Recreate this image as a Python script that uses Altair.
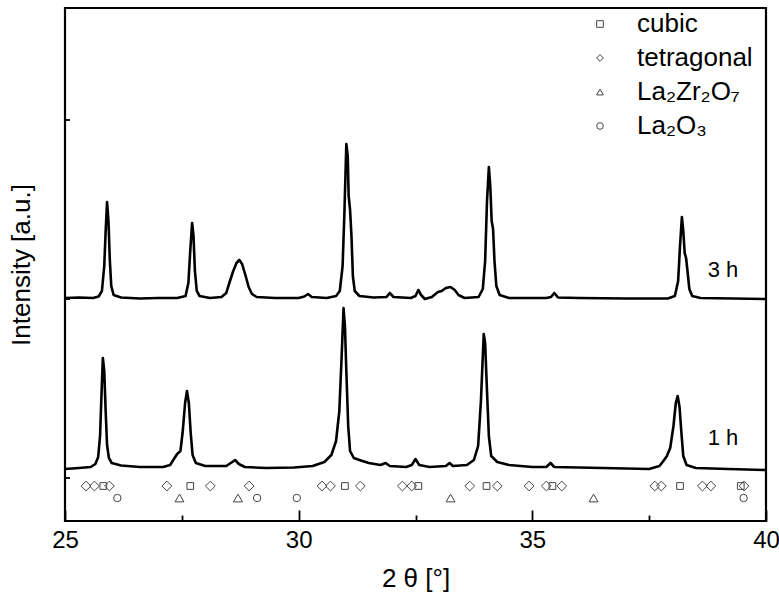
import altair as alt
import pandas as pd

# ---- XRD patterns: (2theta [deg], intensity [a.u.]) ----
pattern_3h = [
    (25.0, 223), (25.3, 223.5), (25.6, 223), (25.72, 224.5), (25.79, 230), (25.84, 255),
    (25.87, 290), (25.9, 319), (25.93, 300), (25.96, 260), (25.99, 235), (26.04, 226),
    (26.2, 223.5), (26.6, 222.5), (27.0, 223), (27.4, 223), (27.58, 225), (27.64, 238),
    (27.68, 270), (27.72, 298), (27.75, 285), (27.78, 250), (27.82, 230), (27.88, 225),
    (28.1, 223), (28.35, 224), (28.45, 228), (28.53, 240), (28.6, 250), (28.67, 258),
    (28.73, 261), (28.79, 257), (28.86, 246), (28.93, 234), (29.0, 227), (29.1, 224),
    (29.5, 223), (30.0, 223), (30.12, 224.5), (30.2, 227), (30.28, 224), (30.6, 223),
    (30.8, 225), (30.88, 230), (30.94, 255), (30.98, 310), (31.02, 377), (31.05, 365),
    (31.07, 325), (31.1, 311), (31.13, 285), (31.16, 245), (31.2, 230), (31.3, 225),
    (31.6, 223.5), (31.88, 224), (31.95, 228), (32.03, 224), (32.4, 223), (32.5, 225),
    (32.56, 231), (32.62, 226), (32.7, 222), (32.85, 224), (32.98, 229), (33.06, 230),
    (33.15, 233), (33.25, 234), (33.34, 231), (33.42, 226), (33.55, 223), (33.85, 224),
    (33.94, 232), (33.99, 260), (34.03, 320), (34.07, 354), (34.1, 335), (34.13, 300),
    (34.16, 292), (34.19, 260), (34.23, 235), (34.3, 226), (34.5, 223), (35.3, 223),
    (35.4, 224), (35.47, 228), (35.55, 223.5), (36.0, 223), (37.0, 222.5), (37.9, 222.5),
    (38.05, 225), (38.12, 240), (38.16, 275), (38.2, 304), (38.23, 290), (38.26, 268),
    (38.29, 263), (38.32, 250), (38.36, 232), (38.42, 225), (38.6, 223), (39.3, 222.5),
    (40.0, 222),
]

pattern_1h = [
    (25.0, 52), (25.3, 53), (25.55, 54), (25.65, 57), (25.71, 64), (25.75, 85),
    (25.78, 125), (25.81, 163), (25.84, 150), (25.87, 110), (25.9, 76), (25.94, 63),
    (26.0, 58), (26.2, 55.5), (26.6, 54), (27.1, 54), (27.25, 56), (27.33, 62),
    (27.4, 67), (27.47, 70), (27.52, 90), (27.57, 118), (27.61, 130), (27.65, 118),
    (27.69, 88), (27.73, 66), (27.8, 58), (28.0, 55), (28.45, 55), (28.58, 59),
    (28.64, 61), (28.72, 57), (28.85, 54), (29.3, 53), (29.9, 53.5), (30.3, 55),
    (30.55, 59), (30.7, 66), (30.8, 80), (30.87, 110), (30.92, 165), (30.96, 213),
    (30.99, 195), (31.02, 150), (31.06, 95), (31.1, 70), (31.18, 63), (31.3, 61),
    (31.5, 58), (31.75, 56), (31.86, 58), (31.95, 55), (32.3, 54), (32.42, 56),
    (32.5, 62), (32.58, 56), (32.8, 54), (33.15, 55), (33.23, 58), (33.3, 55),
    (33.6, 56), (33.75, 61), (33.84, 75), (33.9, 120), (33.96, 187), (33.99, 178),
    (34.03, 130), (34.07, 85), (34.12, 65), (34.25, 59), (34.5, 56), (35.0, 54),
    (35.3, 54), (35.39, 58), (35.47, 54), (36.5, 53), (37.5, 52), (37.72, 55),
    (37.82, 61), (37.88, 65), (37.95, 73), (38.02, 95), (38.07, 118), (38.11, 125),
    (38.15, 114), (38.19, 88), (38.23, 65), (38.3, 56), (38.5, 53), (39.2, 52),
    (40.0, 51),
]

# ---- reference reflection positions (2theta) ----
cubic_pos = [25.82, 27.68, 30.99, 32.56, 34.02, 35.43, 38.16, 39.46]
tetragonal_pos = [25.45, 25.63, 25.95, 27.18, 28.11, 28.94, 30.50, 30.68, 31.32,
                  32.22, 32.42, 33.66, 34.25, 34.93, 35.30, 35.63, 37.62, 37.76,
                  38.64, 38.82, 39.53]
la2zr2o7_pos = [27.45, 28.70, 33.25, 36.31]
la2o3_pos = [26.12, 29.11, 29.96, 39.52]

phase_names = ["cubic", "tetragonal", "La₂Zr₂O₇", "La₂O₃"]
phase_shapes = ["square", "diamond", "triangle-up", "circle"]
phase_sizes = [45, 95, 80, 55]
phase_rows = [35, 35, 23, 23]

curve_labels = ["3 h", "1 h"]
curve_label_x = [39.08, 39.08]
curve_label_y = [251, 83]

x_tick_values = [25, 27.5, 30, 32.5, 35, 37.5, 40]
y_ticks = [43, 222, 401]

FONT = "Liberation Sans"

# ---- tables ----
rows = []
for name, pat in [("3 h", pattern_3h), ("1 h", pattern_1h)]:
    for tt, it in pat:
        rows.append({"sample": name, "two_theta": tt, "intensity": it})
curve_df = pd.DataFrame(rows)

mrows = []
for name, pos, sz, rw in zip(phase_names, [cubic_pos, tetragonal_pos, la2zr2o7_pos, la2o3_pos],
                             phase_sizes, phase_rows):
    for p in pos:
        mrows.append({"phase": name, "pos": p, "row": rw, "sz": sz})
marker_df = pd.DataFrame(mrows)

label_df = pd.DataFrame({"x": curve_label_x, "y": curve_label_y, "t": curve_labels})

xs = alt.Scale(domain=[25, 40], nice=False, zero=False)
ys = alt.Scale(domain=[0, 513], nice=False, zero=False)

# inward ticks: major (multiples of 5) longer than minor
x_axis = alt.Axis(title="2 θ [°]", values=x_tick_values, ticks=True, domain=False, grid=False,
                  tickColor="black", tickWidth=1.8,
                  tickSize=alt.ExprRef("datum.value % 5 === 0 ? -11 : -6"),
                  labelExpr="datum.value % 5 === 0 ? datum.label : ''",
                  labelFontSize=24, labelPadding=18, titleFontSize=26, titlePadding=13,
                  titleFontWeight="normal", format="d", labelColor="black", labelFlush=False,
                  titleColor="black", labelFont=FONT, titleFont=FONT)
y_axis = alt.Axis(title="Intensity [a.u.]", labels=False, ticks=False, domain=False,
                  grid=False, titleFontSize=26, titlePadding=31,
                  titleFontWeight="normal", titleColor="black", titleFont=FONT)

lines = alt.Chart(curve_df).mark_line(color="black", strokeWidth=2.6, strokeJoin="round").encode(
    x=alt.X("two_theta:Q", scale=xs, axis=x_axis, title="2 θ [°]"),
    y=alt.Y("intensity:Q", scale=ys, axis=y_axis, title="Intensity [a.u.]"),
    detail="sample:N",
    order="two_theta:Q",
)

markers = alt.Chart(marker_df).mark_point(filled=False, color="#444", strokeWidth=1, opacity=1).encode(
    x=alt.X("pos:Q", scale=xs, axis=x_axis, title="2 θ [°]"),
    y=alt.Y("row:Q", scale=ys, axis=y_axis, title="Intensity [a.u.]"),
    shape=alt.Shape("phase:N", scale=alt.Scale(domain=phase_names, range=phase_shapes),
                    legend=alt.Legend(title=None, orient="none", legendX=522, legendY=3,
                                      labelFontSize=26, labelFont=FONT, labelColor="black",
                                      symbolSize=45, symbolStrokeWidth=1,
                                      symbolStrokeColor="#444", symbolFillColor="transparent",
                                      labelOffset=24, rowPadding=8, padding=0, labelLimit=300)),
    size=alt.Size("sz:Q", scale=None, legend=None),
)

labels = alt.Chart(label_df).mark_text(fontSize=22, font=FONT, color="black",
                                       align="center", baseline="middle").encode(
    x=alt.X("x:Q", scale=xs, axis=x_axis, title="2 θ [°]"),
    y=alt.Y("y:Q", scale=ys, axis=y_axis, title="Intensity [a.u.]"),
    text="t:N",
)

yt = alt.Chart(pd.DataFrame({"v": y_ticks})).mark_rule(color="black", strokeWidth=1.8).encode(
    y=alt.Y("v:Q", scale=ys, axis=y_axis, title="Intensity [a.u.]"), x=alt.value(0), x2=alt.value(5))

chart = alt.layer(lines, markers, labels, yt).properties(
    width=701, height=513,
    autosize=alt.AutoSizeParams(type="none"),
    padding={"left": 65, "top": 8, "right": 13, "bottom": 84},
).configure(font=FONT).configure_view(stroke="black", strokeWidth=2.2)

chart.save("out.html", embed_options={"renderer": "svg", "actions": False})
